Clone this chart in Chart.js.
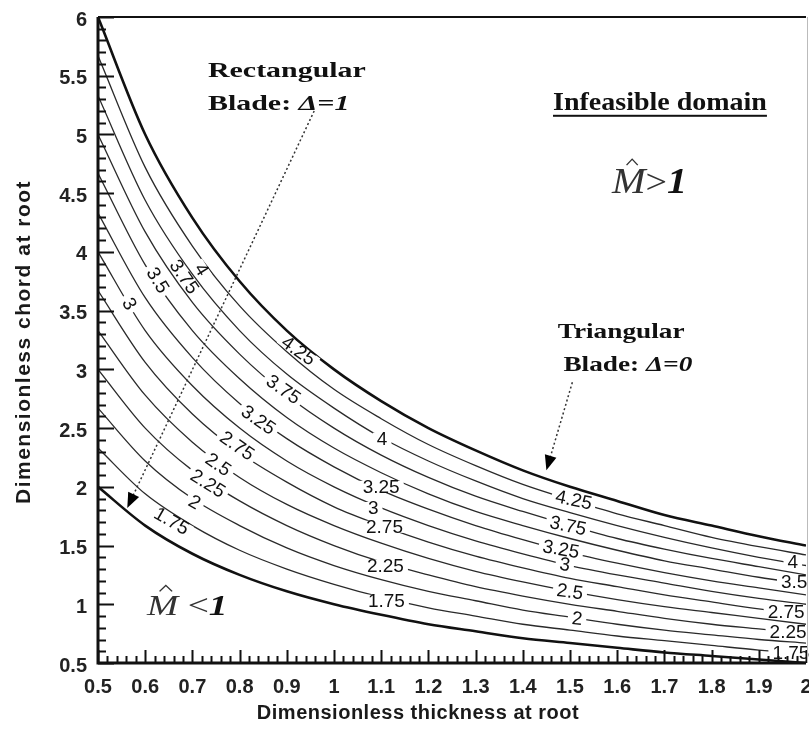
<!DOCTYPE html>
<html>
<head>
<meta charset="utf-8">
<script src="https://cdn.jsdelivr.net/npm/chart.js@4.4.1/dist/chart.umd.min.js"></script>
<style>
  html, body { margin: 0; padding: 0; background: #fff; overflow: hidden; }
  #wrap { width: 809px; height: 742px; }
</style>
</head>
<body>
<div id="wrap"><canvas id="bladeChart" width="809" height="742"></canvas></div>
<script>
const thickness = [0.5, 0.6, 0.7, 0.8, 0.9, 1.0, 1.1, 1.2, 1.3, 1.4, 1.5, 1.6, 1.7, 1.8, 1.9, 2.0];

// M^ = 1 limits
const rectangularEdge = [2.00, 1.67, 1.43, 1.25, 1.11, 1.00, 0.91, 0.83, 0.77, 0.71, 0.67, 0.63, 0.59, 0.56, 0.53, 0.50];
const triangularEdge  = [6.00, 5.00, 4.29, 3.75, 3.33, 3.00, 2.73, 2.50, 2.31, 2.14, 2.00, 1.88, 1.76, 1.67, 1.58, 1.50];

// contour levels and chord read at each thickness
const levels = ['1.75', '2', '2.25', '2.5', '2.75', '3', '3.25', '3.5', '3.75', '4', '4.25'];
const c175 = [2.33, 1.94, 1.67, 1.46, 1.30, 1.17, 1.06, 0.97, 0.90, 0.83, 0.78, 0.73, 0.69, 0.65, 0.61, 0.58];
const c200 = [2.67, 2.22, 1.90, 1.67, 1.48, 1.33, 1.21, 1.11, 1.03, 0.95, 0.89, 0.83, 0.78, 0.74, 0.70, 0.67];
const c225 = [3.00, 2.50, 2.14, 1.88, 1.67, 1.50, 1.36, 1.25, 1.15, 1.07, 1.00, 0.94, 0.88, 0.83, 0.79, 0.75];
const c250 = [3.33, 2.78, 2.38, 2.08, 1.85, 1.67, 1.52, 1.39, 1.28, 1.19, 1.11, 1.04, 0.98, 0.93, 0.88, 0.83];
const c275 = [3.67, 3.06, 2.62, 2.29, 2.04, 1.83, 1.67, 1.53, 1.41, 1.31, 1.22, 1.15, 1.08, 1.02, 0.96, 0.92];
const c300 = [4.00, 3.33, 2.86, 2.50, 2.22, 2.00, 1.82, 1.67, 1.54, 1.43, 1.33, 1.25, 1.18, 1.11, 1.05, 1.00];
const c325 = [4.33, 3.61, 3.10, 2.71, 2.41, 2.17, 1.97, 1.81, 1.67, 1.55, 1.44, 1.35, 1.27, 1.20, 1.14, 1.08];
const c350 = [4.67, 3.89, 3.33, 2.92, 2.59, 2.33, 2.12, 1.94, 1.79, 1.67, 1.56, 1.46, 1.37, 1.30, 1.23, 1.17];
const c375 = [5.00, 4.17, 3.57, 3.13, 2.78, 2.50, 2.27, 2.08, 1.92, 1.79, 1.67, 1.56, 1.47, 1.39, 1.32, 1.25];
const c400 = [5.33, 4.44, 3.81, 3.33, 2.96, 2.67, 2.42, 2.22, 2.05, 1.90, 1.78, 1.67, 1.57, 1.48, 1.40, 1.33];
const c425 = [5.67, 4.72, 4.05, 3.54, 3.15, 2.83, 2.58, 2.36, 2.18, 2.02, 1.89, 1.77, 1.67, 1.57, 1.49, 1.42];
const contours = [c175, c200, c225, c250, c275, c300, c325, c350, c375, c400, c425];

const xTicks = [0.5, 0.6, 0.7, 0.8, 0.9, 1, 1.1, 1.2, 1.3, 1.4, 1.5, 1.6, 1.7, 1.8, 1.9, 2];
const yTicks = [0.5, 1, 1.5, 2, 2.5, 3, 3.5, 4, 4.5, 5, 5.5, 6];

// contour labels: text, thickness, chord, rotation (deg)
const contourLabels = [
    ['4', 0.72, 3.85, 58], ['3.75', 0.683, 3.79, 55], ['3.5', 0.627, 3.76, 58], ['3', 0.567, 3.56, 60],
    ['4.25', 0.925, 3.16, 35], ['3.75', 0.893, 2.83, 35], ['3.25', 0.84, 2.57, 35], ['2.75', 0.795, 2.35, 35],
    ['2.5', 0.755, 2.19, 35], ['2.25', 0.733, 2.03, 32], ['2', 0.705, 1.87, 30], ['1.75', 0.656, 1.71, 30],
    ['4', 1.102, 2.41, 0], ['3.25', 1.10, 2.00, 0], ['3', 1.083, 1.82, 0], ['2.75', 1.107, 1.66, 0],
    ['2.25', 1.109, 1.33, 0], ['1.75', 1.111, 1.03, 0],
    ['4.25', 1.508, 1.89, 12], ['3.75', 1.496, 1.67, 12], ['3.25', 1.481, 1.47, 10], ['3', 1.489, 1.34, 8],
    ['2.5', 1.50, 1.11, 8], ['2', 1.515, 0.88, 6],
    ['4', 1.972, 1.36, 0], ['3.5', 1.975, 1.19, 0], ['2.75', 1.958, 0.94, 0], ['2.25', 1.962, 0.77, 0], ['1.75', 1.968, 0.59, 0]
];

const SERIF = '"Liberation Serif", "Times New Roman", serif';
const SANS = '"Liberation Sans", Arial, sans-serif';

// free text: parts [text, font], anchor thickness, chord (baseline), horizontal stretch
const notes = [
    { parts: [['Rectangular', 'bold 22px ' + SERIF]], x: 0.733, y: 5.49, stretch: 1.36 },
    { parts: [['Blade: ', 'bold 22px ' + SERIF], ['\u0394=1', 'bold italic 22px ' + SERIF]], x: 0.733, y: 5.21, stretch: 1.36 },
    { parts: [['Triangular', 'bold 22px ' + SERIF]], x: 1.474, y: 3.27, stretch: 1.24 },
    { parts: [['Blade: ', 'bold 22px ' + SERIF], ['\u0394=0', 'bold italic 22px ' + SERIF]], x: 1.486, y: 2.99, stretch: 1.24 },
    { parts: [['Infeasible domain', 'bold 25px ' + SERIF]], x: 1.464, y: 5.21, stretch: 1.12, underline: true },
    { parts: [['M', 'italic 36px ' + SERIF], ['>', '34px ' + SERIF], ['1', 'bold italic 36px ' + SERIF]], x: 1.589, y: 4.50, stretch: 1.12, hat: true },
    { parts: [['M', 'italic 30px ' + SERIF], [' <', '30px ' + SERIF], ['1', 'bold italic 30px ' + SERIF]], x: 0.604, y: 0.91, stretch: 1.25, hat: true }
];

// dotted pointers: from [thickness, chord] to arrow tip
const pointers = [
    [[0.958, 5.20], [0.562, 1.82]],
    [[1.505, 2.89], [1.45, 2.14]]
];

function toPoints(arr) {
    return thickness.map((t, i) => ({ x: t, y: arr[i] }));
}

const datasets = [
    { data: toPoints(rectangularEdge), borderColor: '#111', borderWidth: 2.6 },
    { data: toPoints(triangularEdge), borderColor: '#111', borderWidth: 2.6 }
];
contours.forEach((c, i) => {
    datasets.push({ label: levels[i], data: toPoints(c), borderColor: '#2a2a2a', borderWidth: 1.3 });
});

const framePlugin = {
    id: 'frame',
    afterDatasetsDraw(chart) {
        const ctx = chart.ctx;
        const xs = chart.scales.x, ys = chart.scales.y;
        const a = chart.chartArea;

        // contour labels with a gap cut in the line
        ctx.save();
        ctx.font = '19px ' + SANS;
        ctx.textAlign = 'center';
        ctx.textBaseline = 'middle';
        contourLabels.forEach(l => {
            const px = xs.getPixelForValue(l[1]);
            const py = ys.getPixelForValue(l[2]);
            const w = ctx.measureText(l[0]).width;
            ctx.save();
            ctx.translate(px, py);
            ctx.rotate(l[3] * Math.PI / 180);
            ctx.fillStyle = '#fff';
            ctx.fillRect(-w / 2 - 4, -6, w + 8, 12);
            ctx.fillStyle = '#111';
            ctx.fillText(l[0], 0, 1);
            ctx.restore();
        });
        ctx.restore();

        // pointers
        pointers.forEach(p => {
            const x0 = xs.getPixelForValue(p[0][0]), y0 = ys.getPixelForValue(p[0][1]);
            const x1 = xs.getPixelForValue(p[1][0]), y1 = ys.getPixelForValue(p[1][1]);
            const ang = Math.atan2(y1 - y0, x1 - x0);
            ctx.save();
            ctx.strokeStyle = '#333';
            ctx.lineWidth = 1.5;
            ctx.setLineDash([2, 2.5]);
            ctx.beginPath();
            ctx.moveTo(x0, y0);
            ctx.lineTo(x1 - 12 * Math.cos(ang), y1 - 12 * Math.sin(ang));
            ctx.stroke();
            ctx.setLineDash([]);
            ctx.translate(x1, y1);
            ctx.rotate(ang);
            ctx.fillStyle = '#000';
            ctx.beginPath();
            ctx.moveTo(0, 0);
            ctx.lineTo(-15, -6);
            ctx.lineTo(-15, 6);
            ctx.closePath();
            ctx.fill();
            ctx.restore();
        });

        // notes
        notes.forEach(n => {
            const px = xs.getPixelForValue(n.x), py = ys.getPixelForValue(n.y);
            ctx.save();
            ctx.translate(px, py);
            ctx.scale(n.stretch, 1);
            ctx.textAlign = 'left';
            ctx.textBaseline = 'alphabetic';
            let cx = 0, mW = 0;
            n.parts.forEach((p, i) => {
                ctx.font = p[1];
                ctx.fillStyle = n.hat && i < 2 ? '#333' : '#111';
                ctx.fillText(p[0], cx, 0);
                const w = ctx.measureText(p[0]).width;
                if (i === 0) mW = w;
                cx += w;
            });
            if (n.underline) {
                ctx.fillStyle = '#111';
                ctx.fillRect(0, 5, cx, 2);
            }
            if (n.hat) {
                const size = parseFloat(n.parts[0][1].match(/(\d+)px/)[1]);
                const hx = mW * 0.6, hy = -size * 0.78;
                ctx.strokeStyle = '#333';
                ctx.lineWidth = 1.2;
                ctx.beginPath();
                ctx.moveTo(hx - 5, hy);
                ctx.lineTo(hx, hy - 6);
                ctx.lineTo(hx + 5, hy);
                ctx.stroke();
            }
            ctx.restore();
        });

        // frame and inside ticks
        ctx.save();
        ctx.strokeStyle = '#111';
        ctx.lineWidth = 2;
        ctx.beginPath();
        for (let v = 0.5; v <= 6.0001; v += 0.1) {
            const y = Math.round(ys.getPixelForValue(v)) + 0.5;
            const major = Math.abs(v * 2 - Math.round(v * 2)) < 1e-6;
            ctx.moveTo(a.left, y);
            ctx.lineTo(a.left + (major ? 16 : 8), y);
        }
        for (let v = 0.5; v <= 2.0001; v += 0.02) {
            const x = Math.round(xs.getPixelForValue(v)) + 0.5;
            const major = Math.abs(v * 10 - Math.round(v * 10)) < 1e-6;
            ctx.moveTo(x, a.bottom);
            ctx.lineTo(x, a.bottom - (major ? 13 : 7));
        }
        ctx.stroke();
        ctx.lineWidth = 3;
        ctx.beginPath();
        ctx.moveTo(a.left, a.top);
        ctx.lineTo(a.left, a.bottom);
        ctx.lineTo(a.right, a.bottom);
        ctx.stroke();
        ctx.lineWidth = 2;
        ctx.beginPath();
        ctx.moveTo(a.left, a.top);
        ctx.lineTo(a.right, a.top);
        ctx.stroke();
        ctx.strokeStyle = '#bbb';
        ctx.lineWidth = 1;
        ctx.beginPath();
        ctx.moveTo(a.right + 1.5, a.top);
        ctx.lineTo(a.right + 1.5, a.bottom);
        ctx.stroke();
        ctx.restore();

        // axis titles
        ctx.save();
        ctx.fillStyle = '#1a1a1a';
        ctx.font = 'bold 20px ' + SANS;
        ctx.letterSpacing = '0.5px';
        ctx.textAlign = 'center';
        ctx.textBaseline = 'middle';
        ctx.fillText('Dimensionless thickness at root', 418, 713);
        ctx.translate(24, 342);
        ctx.rotate(-Math.PI / 2);
        ctx.letterSpacing = '1.5px';
        ctx.font = 'bold 21px ' + SANS;
        ctx.fillText('Dimensionless chord at root', 0, 0);
        ctx.restore();
    }
};

const ctx = document.getElementById('bladeChart').getContext('2d');

const bladeChart = new Chart(ctx, {
    type: 'scatter',
    data: { datasets: datasets },
    options: {
        responsive: false,
        animation: false,
        events: [],
        layout: { padding: { top: 17, right: 3, left: 0, bottom: 0 } },
        elements: {
            point: { radius: 0 },
            line: { cubicInterpolationMode: 'monotone', fill: false }
        },
        datasets: { scatter: { showLine: true } },
        scales: {
            x: {
                type: 'linear',
                min: 0.5,
                max: 2,
                afterBuildTicks: axis => { axis.ticks = xTicks.map(v => ({ value: v })); },
                afterFit: scale => { scale.height = 79; scale.paddingLeft = 0; scale.paddingRight = 0; },
                grid: { display: false, drawTicks: false },
                border: { display: false },
                ticks: {
                    padding: 12,
                    maxRotation: 0,
                    autoSkip: false,
                    color: '#222',
                    font: { family: SANS, size: 20, weight: 'bold' },
                    callback: v => String(v)
                }
            },
            y: {
                type: 'linear',
                min: 0.5,
                max: 6,
                afterBuildTicks: axis => { axis.ticks = yTicks.map(v => ({ value: v })); },
                afterFit: scale => { scale.width = 98; scale.paddingTop = 0; scale.paddingBottom = 0; },
                grid: { display: false, drawTicks: false },
                border: { display: false },
                ticks: {
                    padding: 11,
                    labelOffset: 3,
                    autoSkip: false,
                    color: '#222',
                    font: { family: SANS, size: 20, weight: 'bold' },
                    callback: v => String(v)
                }
            }
        },
        plugins: {
            legend: { display: false },
            tooltip: { enabled: false },
            title: { display: false }
        }
    },
    plugins: [framePlugin]
});
</script>
</body>
</html>
